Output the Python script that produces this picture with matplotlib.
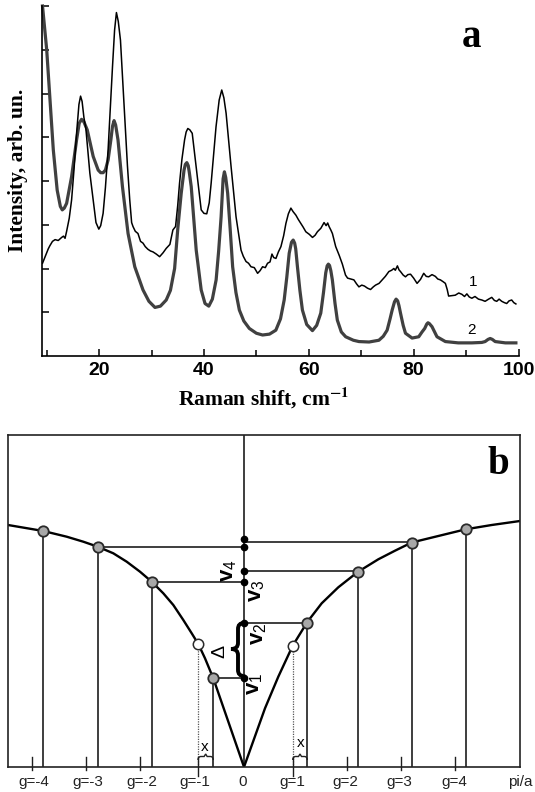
import matplotlib
matplotlib.use("Agg")
import matplotlib.pyplot as plt
from matplotlib.path import Path
from matplotlib.patches import PathPatch

plt.rcParams['mathtext.fontset'] = 'custom'
plt.rcParams['mathtext.rm'] = 'Liberation Sans'
plt.rcParams['mathtext.it'] = 'Liberation Sans:italic'
plt.rcParams['mathtext.bf'] = 'Liberation Sans:bold'

SERIF = 'Liberation Serif'
SANS = 'Liberation Sans'

# ---------------- Panel a data ----------------
exp_x = [9.2, 9.8, 10.3, 10.6, 11.1, 11.6, 12.2, 12.85, 13.2, 13.5, 13.8, 14.3, 14.75,
         15.2, 15.7, 16.15, 16.46, 16.75, 17.1, 17.47, 18.23, 18.86,
         19.4, 19.94, 20.3, 20.76, 21.2, 21.71, 22.1, 22.55, 22.95, 23.3, 23.65, 24.07,
         24.89, 25.4, 25.84, 26.2, 26.46, 26.9, 27.41, 27.9, 28.37, 28.8,
         29.3, 29.8, 30.27, 30.9, 31.54, 32.2, 32.8, 33.5, 34.07, 34.58, 35.0, 35.34,
         35.8, 36.3, 36.6, 36.92, 37.3, 37.76, 38.5, 39.0,
         39.47, 40.0, 40.53, 41.0, 41.37, 41.8, 42.3, 42.9, 43.39, 43.8, 44.22, 45.17,
         46.12, 47.07, 47.5, 48.02, 48.5, 48.97, 49.6, 50.23, 50.7, 51.18, 51.7,
         52.13, 52.6, 52.97, 53.3, 53.73, 54.2, 54.68, 55.2, 55.63, 56.1, 56.58,
         57.0, 57.53, 58.0, 58.48, 58.9, 59.43, 60.1, 60.7, 61.2, 61.64, 62.3, 62.91,
         63.3, 63.6, 63.86, 64.2, 64.5, 65.13, 65.8, 66.4, 67.0, 67.4, 68.0, 68.6, 69.1,
         69.56, 70.1, 70.6, 71.2, 71.78, 72.3, 72.73, 73.4, 74.0, 74.6, 75.27, 75.8,
         76.22, 76.5, 76.9, 77.2, 77.49, 78.0, 78.44, 78.9, 79.4, 80.0, 80.65, 81.3,
         81.92, 82.4, 82.87, 83.5, 84.14, 84.6, 85.1, 85.6, 86.05, 86.4, 86.67, 87.3,
         87.94, 88.6, 89.2, 89.7, 90.15, 90.6, 91.1, 91.7, 92.36, 93.0, 93.63, 94.3,
         94.9, 95.4, 95.85, 96.3, 96.8, 97.3, 97.75, 98.2, 98.7, 99.1, 99.5]
exp_y = [2.12, 2.30, 2.45, 2.52, 2.62, 2.66, 2.64, 2.71, 2.74, 2.69, 2.85, 3.15, 3.57,
         4.25, 5.09, 5.75, 5.94, 5.82, 5.45, 5.20, 4.18, 3.57,
         3.05, 2.90, 2.98, 3.26, 3.85, 4.71, 5.60, 6.61, 7.45, 7.85, 7.65, 7.22,
         5.47, 4.35, 3.57, 3.05, 2.96, 2.85, 2.80, 2.62, 2.58, 2.50,
         2.44, 2.40, 2.38, 2.33, 2.27, 2.36, 2.46, 2.55, 2.88, 2.96, 3.45, 3.95,
         4.50, 4.94, 5.12, 5.20, 5.17, 5.09, 4.33, 3.80,
         3.34, 3.26, 3.25, 3.50, 3.95, 4.55, 5.24, 5.85, 6.08, 5.90, 5.55, 4.33,
         3.18, 2.42, 2.28, 2.16, 2.12, 2.04, 2.02, 1.89, 1.95, 2.04, 2.02,
         2.12, 2.15, 2.33, 2.25, 2.23, 2.38, 2.50, 2.75, 3.03, 3.25, 3.38,
         3.30, 3.22, 3.12, 3.03, 2.95, 2.84, 2.78, 2.71, 2.76, 2.84, 2.92, 3.05,
         2.98, 3.04, 2.96, 2.88, 2.80, 2.50, 2.30, 2.10, 1.85, 1.78, 1.76, 1.74, 1.65,
         1.58, 1.62, 1.60, 1.55, 1.52, 1.58, 1.62, 1.66, 1.74, 1.82, 1.93, 1.96,
         2.00, 1.96, 2.06, 1.97, 1.93, 1.85, 1.81, 1.86, 1.87, 1.78, 1.66, 1.75,
         1.89, 1.82, 1.81, 1.86, 1.82, 1.76, 1.74, 1.70, 1.66, 1.52, 1.37, 1.38,
         1.39, 1.44, 1.41, 1.36, 1.42, 1.35, 1.32, 1.36, 1.30, 1.28, 1.25, 1.30,
         1.34, 1.27, 1.25, 1.30, 1.25, 1.22, 1.20, 1.26, 1.28, 1.22, 1.19]

fit_x = [9.2, 10.0, 10.63, 11.26, 12.0, 12.6, 12.97, 13.35, 13.8, 14.75, 15.7, 16.2,
         16.65, 17.1, 17.73, 18.87, 19.82, 20.3, 20.76, 21.2, 21.71, 22.25, 22.55,
         22.85, 23.15, 23.6, 24.45, 25.52, 26.8, 28.37, 29.5, 30.65, 31.7, 32.8,
         33.6, 34.4, 35.0, 35.66, 36.2, 36.45, 36.73, 37.0, 37.2, 37.57, 38.52, 39.47,
         40.2, 40.92, 41.6, 42.32, 42.8, 43.27, 43.65, 43.9, 44.15, 44.52, 45.0, 45.47,
         46.1, 46.75, 47.6, 48.65, 50.0, 51.18, 52.5, 53.71, 54.6, 55.3, 55.8, 56.26,
         56.7, 57.02, 57.3, 57.5, 57.83, 58.3, 58.78, 59.6, 60.69, 61.5, 62.28, 62.8,
         63.23, 63.5, 63.73, 63.95, 64.2, 64.49, 65.0, 65.44, 66.2, 67.03, 68.5, 69.56,
         71.5, 73.37, 74.2, 74.94, 75.5, 75.9, 76.35, 76.65, 76.95, 77.2, 77.49, 78.0,
         78.44, 79.7, 80.97, 81.6, 82.11, 82.5, 82.74, 83.0, 83.5, 84.0, 84.45, 86.05,
         88.5, 91.1, 93.0, 93.63, 94.2, 94.6, 95.0, 95.55, 97.5, 99.5]
fit_y = [8.0, 7.0, 5.85, 4.71, 3.79, 3.42, 3.34, 3.38, 3.49, 4.10, 4.94, 5.32,
         5.41, 5.35, 5.17, 4.56, 4.25, 4.19, 4.19, 4.25, 4.48, 4.95, 5.25,
         5.38, 5.28, 4.94, 3.87, 2.80, 2.04, 1.51, 1.25, 1.11, 1.14, 1.28,
         1.50, 2.00, 2.90, 3.72, 4.25, 4.38, 4.42, 4.35, 4.20, 3.87, 2.42, 1.51,
         1.20, 1.14, 1.30, 1.74, 2.40, 3.18, 4.05, 4.21, 4.08, 3.72, 2.90, 2.04,
         1.45, 1.05, 0.80, 0.63, 0.52, 0.48, 0.50, 0.59, 0.85, 1.28, 1.80, 2.35,
         2.60, 2.65, 2.58, 2.45, 2.04, 1.50, 1.05, 0.72, 0.58, 0.70, 0.98, 1.45,
         1.90, 2.06, 2.10, 2.07, 1.95, 1.74, 1.20, 0.82, 0.55, 0.44, 0.36, 0.33,
         0.32, 0.36, 0.45, 0.59, 0.85, 1.05, 1.24, 1.30, 1.26, 1.15, 0.98, 0.70,
         0.52, 0.41, 0.44, 0.55, 0.63, 0.73, 0.76, 0.74, 0.67, 0.55, 0.44, 0.33,
         0.30, 0.30, 0.31, 0.33, 0.38, 0.40, 0.38, 0.33, 0.30, 0.30]

xticks_major = [20, 40, 60, 80, 100]
xticks_minor = [10, 30, 50, 70, 90]
yticks = [1, 2, 3, 4, 5, 6, 7, 8]

# ---------------- Panel b data (arbitrary units: k along x, frequency along y) -------------
curve_k = [-236, -200.7, -177.3, -160.7, -146.3, -130.7, -117.3, -104, -92.3, -80.7,
           -70.7, -60.7, -52.3, -45.7, -39, -30.7, 0, 21, 34.3, 48.7, 63.3, 77.7,
           94.3, 113.7, 134.3, 151, 167.7, 194.3, 221.7, 247.7, 276]
curve_w = [242, 236, 230.3, 225.3, 220.3, 213.7, 205.3, 195.3, 185.3, 173.7,
           162, 147, 133.7, 123, 108.7, 88.7, 0, 58.7, 90.3, 121.3, 145, 163.7,
           179.7, 195, 207.7, 216.3, 224.5, 231, 237.7, 242, 246]

filled_k = [-200.7, -146.3, -92.3, -30.7, 63.3, 113.7, 167.7, 221.7]
filled_w = [236, 220.3, 185.3, 88.7, 144.5, 195.5, 224.5, 237.7]
open_k = [-45.7, 48.7]
open_w = [123, 121.3]
link_from_k = [-146.3, -92.3, -30.7, 63.3, 113.7, 167.7]
link_w = [220.3, 184.7, 88.7, 143.7, 196.3, 225.5]
level_w = [227.7, 219.8, 196.3, 184.7, 143.7, 88.7]

g_tick_k = [-211.6, -158, -104, -46, 48.8, 103, 157, 210.6]
g_label_k = [-210, -156, -102.4, -49.5, -1, 48.8, 101.7, 155, 210, 276.5]
g_labels = ['g=-4', 'g=-3', 'g=-2', 'g=-1', '0', 'g=1', 'g=2', 'g=3', 'g=4', 'pi/a']

nu_labels = [r'$\mathbf{v}_4$', r'$\mathbf{v}_3$', r'$\mathbf{v}_2$', r'$\mathbf{v}_1$']
nu_k = [-15, 13, 15, 11]
nu_w = [196, 176, 133, 83]

# ================= Figure =================
fig = plt.figure(figsize=(5.35, 7.92), dpi=100)
W, H = 535.0, 792.0

# ---------- Panel a ----------
axA = fig.add_axes([42.3 / W, 1 - 356 / H, (518.5 - 42.3) / W, 350 / H])
axA.plot(fit_x, fit_y, color='#404040', lw=2.3, solid_joinstyle='round', clip_on=False)
axA.plot(exp_x, exp_y, color='black', lw=1.1, solid_joinstyle='round')
axA.set_xlim(9.16, 100)
axA.set_ylim(0, 8)
for s in ['top', 'right']:
    axA.spines[s].set_visible(False)
for s in ['left', 'bottom']:
    axA.spines[s].set_linewidth(1.2)
axA.set_xticks(xticks_major)
axA.set_xticks(xticks_minor, minor=True)
axA.set_yticks(yticks)
axA.set_yticklabels([])
axA.tick_params(which='major', direction='in', length=5, width=1.1, pad=4)
axA.tick_params(which='minor', direction='in', length=4, width=1.1)
axA.set_xticklabels([str(v) for v in xticks_major], fontfamily=SANS,
                    fontweight='bold', fontsize=14)
axA.text(91.1, 7.28, 'a', fontfamily=SERIF, fontweight='bold', fontsize=28,
         ha='center', va='center')
axA.text(91.4, 1.70, '1', fontfamily=SANS, fontsize=11, ha='center', va='center')
axA.text(91.1, 0.59, '2', fontfamily=SANS, fontsize=11, ha='center', va='center')

fig.text(18 / W, 1 - 170.5 / H, 'Intensity, arb. un.', rotation=90, fontfamily=SERIF,
         fontweight='bold', fontsize=15.5, ha='center', va='center')
fig.text(264 / W, 1 - 398 / H, r'Raman shift, cm$^{\mathbf{-1}}$', fontfamily=SERIF,
         fontweight='bold', fontsize=15.5, ha='center', va='center',
         math_fontfamily='stix')

# ---------- Panel b ----------
axB = fig.add_axes([8 / W, 1 - 767 / H, 512 / W, 332 / H])
axB.set_xlim(-236, 276)
axB.set_ylim(0, 332)
axB.set_xticks([])
axB.set_yticks([])
for s in axB.spines.values():
    s.set_linewidth(1.2)
    s.set_color('#222222')

LC = '#1e1e1e'
axB.plot([0, 0], [0, 332], color=LC, lw=1.2)
for k, w in zip(filled_k, filled_w):
    axB.plot([k, k], [0, w], color=LC, lw=1.2)
for k, w in zip(open_k, open_w):
    axB.plot([k, k], [0, w], color='#555555', lw=0.9, ls=(0, (1, 1)))
for k, w in zip(link_from_k, link_w):
    axB.plot([k, 0], [w, w], color=LC, lw=1.2)
axB.plot(curve_k, curve_w, color='black', lw=1.7, solid_joinstyle='round')
axB.plot(filled_k, filled_w, 'o', ms=7.5, mfc='#a8a8a8', mec='#2a2a2a', mew=1.3)
axB.plot(open_k, open_w, 'o', ms=7.5, mfc='white', mec='#2a2a2a', mew=1.1)
axB.plot([0] * len(level_w), level_w, 'o', ms=4.5, color='black')

for k in g_tick_k:
    lo = -9 if abs(k) < 60 else -3
    axB.plot([k, k], [lo, 10], color=LC, lw=1.0, clip_on=False)
for k, lab in zip(g_label_k, g_labels):
    axB.text(k, -15, lab, fontfamily=SANS, fontsize=11, color='#222222',
             ha='center', va='center', clip_on=False)

for k, w, lab in zip(nu_k, nu_w, nu_labels):
    axB.text(k, w, lab, rotation=90, fontsize=16, ha='center', va='center',
             math_fontfamily='custom')
axB.text(-24, 116, 'Δ', rotation=90, fontfamily=SANS, fontsize=14,
         ha='center', va='center')

bv = [(0, 144), (-6, 144), (-6, 138), (-6, 124), (-6, 118), (-13, 118),
      (-6, 118), (-6, 112), (-6, 97), (-6, 91), (0, 91)]
bc = [Path.MOVETO, Path.CURVE3, Path.CURVE3, Path.LINETO, Path.CURVE3, Path.CURVE3,
      Path.CURVE3, Path.CURVE3, Path.LINETO, Path.CURVE3, Path.CURVE3]
axB.add_patch(PathPatch(Path(bv, bc), fill=False, lw=2.8, color='black',
                        capstyle='round'))

for k0, k1 in [(-46, -30.7), (48.7, 63.3)]:
    m = 0.5 * (k0 + k1)
    v = [(k0, 7), (k0, 10.5), (k0 + 3, 10.5), (m - 1.5, 10.5), (m, 13),
         (m + 1.5, 10.5), (k1 - 3, 10.5), (k1, 10.5), (k1, 7)]
    c = [Path.MOVETO, Path.CURVE3, Path.CURVE3, Path.LINETO, Path.LINETO,
         Path.LINETO, Path.LINETO, Path.CURVE3, Path.CURVE3]
    axB.add_patch(PathPatch(Path(v, c), fill=False, lw=1.0, color='#222222'))
axB.text(-39.2, 20.4, 'x', fontfamily=SANS, fontsize=11, ha='center', va='center')
axB.text(56.3, 24, 'x', fontfamily=SANS, fontsize=11, ha='center', va='center')

axB.text(254, 303, 'b', fontfamily=SERIF, fontweight='bold', fontsize=28,
         ha='center', va='center')

fig.savefig('out.png', dpi=100)
